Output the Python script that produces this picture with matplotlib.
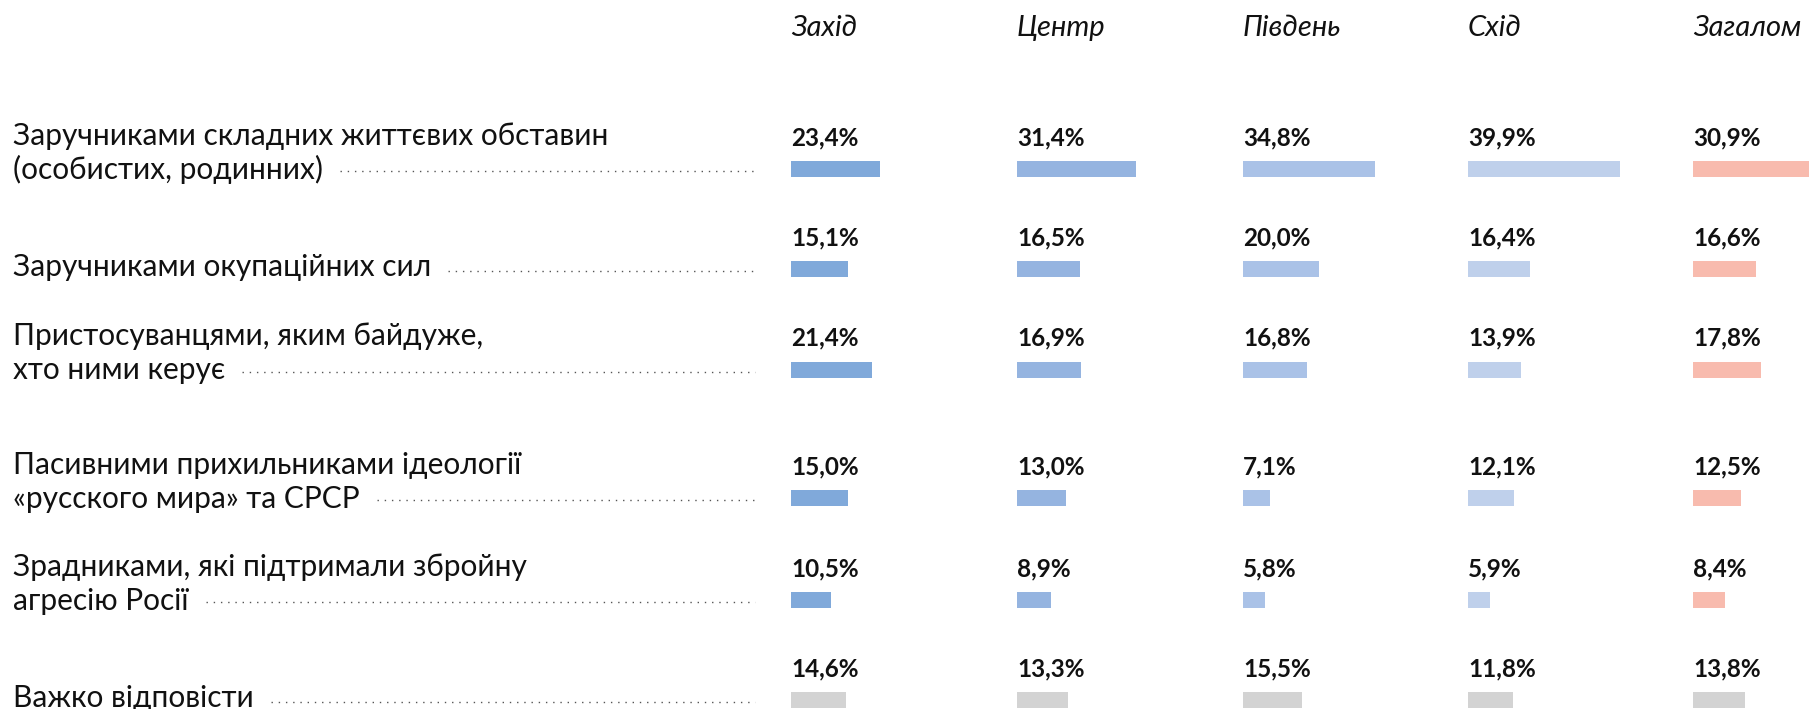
import matplotlib
matplotlib.use("Agg")
import matplotlib.pyplot as plt
import numpy as np

# ---- data ----
regions = ["Захід", "Центр", "Південь", "Схід", "Загалом"]
categories = [
    "Заручниками складних життєвих обставин\n(особистих, родинних)",
    "Заручниками окупаційних сил",
    "Пристосуванцями, яким байдуже,\nхто ними керує",
    "Пасивними прихильниками ідеології\n«русского мира» та СРСР",
    "Зрадниками, які підтримали збройну\nагресію Росії",
    "Важко відповісти",
]
zahid = [23.4, 15.1, 21.4, 15.0, 10.5, 14.6]
tsentr = [31.4, 16.5, 16.9, 13.0, 8.9, 13.3]
pivden = [34.8, 20.0, 16.8, 7.1, 5.8, 15.5]
skhid = [39.9, 16.4, 13.9, 12.1, 5.9, 11.8]
zahalom = [30.9, 16.6, 17.8, 12.5, 8.4, 13.8]
series = [zahid, tsentr, pivden, skhid, zahalom]

# ---- style / layout ----
colors = ["#80A9DA", "#95B4E0", "#AAC2E7", "#BFD0EB", "#F8BBAE"]
dk_color = "#D3D3D3"
FONT = ["Lato", "DejaVu Sans"]
W, H = 1809, 709
col_x = [791, 1017, 1243, 1468, 1693]
row_y = [169, 269, 369.5, 498, 600, 700]
px_per_pct = 3.8
bar_h = 16

fig = plt.figure(figsize=(W / 100, H / 100), dpi=100)
ax = fig.add_axes([0, 0, 1, 1])
ax.set_xlim(0, W)
ax.set_ylim(H, 0)
ax.axis("off")

# headers
for x, name in zip(col_x, regions):
    ax.text(x, 36, name, fontsize=21, fontstyle="italic", family=FONT,
            ha="left", va="baseline", color="#111111")

# bars and value labels
for j, (x, vals) in enumerate(zip(col_x, series)):
    cols = [colors[j]] * (len(vals) - 1) + [dk_color]
    ax.barh(row_y, np.array(vals) * px_per_pct, left=x, height=bar_h,
            color=cols, clip_on=False)
    for y, v in zip(row_y, vals):
        ax.text(x, y - 24, f"{v:.1f}%".replace(".", ","), fontsize=17.5,
                fontweight="bold", family=FONT, ha="left", va="baseline",
                color="#111111")

# category labels with dotted leaders
fig.canvas.draw()
renderer = fig.canvas.get_renderer()
inv = ax.transData.inverted()
for y, cat in zip(row_y, categories):
    lines = cat.split("\n")
    n = len(lines)
    off = 10 if n > 1 else 7
    last = None
    for i, line in enumerate(lines):
        base = y + off - (n - 1 - i) * 34
        t = ax.text(13, base, line, fontsize=21.5, family=FONT, ha="left",
                    va="baseline", color="#111111")
        last = t
    bb = last.get_window_extent(renderer=renderer)
    x_end = inv.transform((bb.x1, bb.y0))[0]
    ax.plot([x_end + 17, 755], [y + 2, y + 2], color="#555555", lw=1.0,
            linestyle=(0, (1, 4.2)), solid_capstyle="butt")

fig.savefig("out.png", dpi=100)
